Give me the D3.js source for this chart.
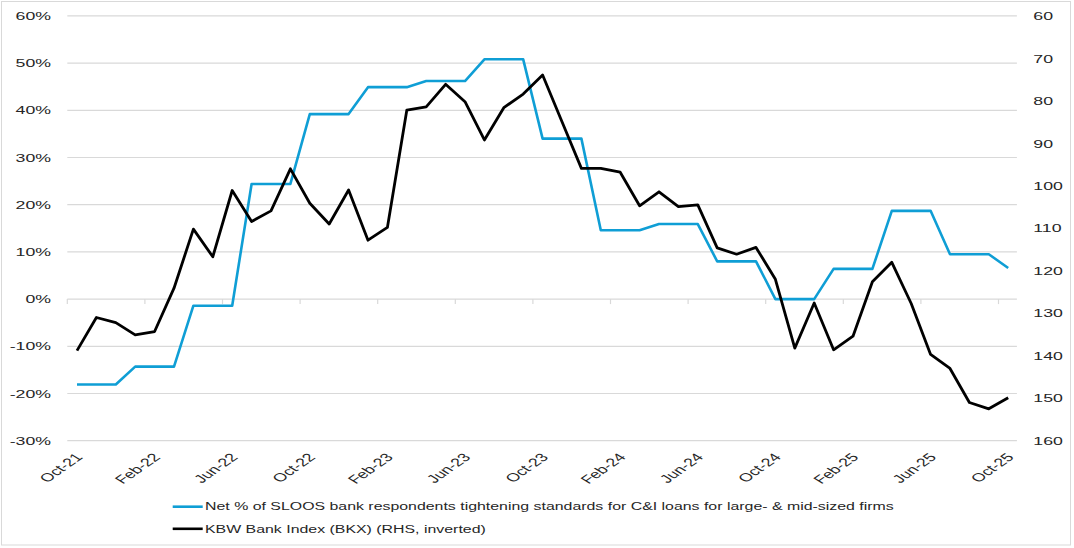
<!DOCTYPE html>
<html><head><meta charset="utf-8">
<script src="https://cdn.jsdelivr.net/npm/d3@7"></script>
<style>
body{margin:0;background:#fff}
svg{display:block}
text{font-family:"Liberation Sans",Arial,sans-serif;fill:#262626}
</style>
</head><body>
<svg id="c" width="1074" height="548"></svg>
<script>
// ---------- data ----------
const months = ["Oct-21","Nov-21","Dec-21","Jan-22","Feb-22","Mar-22","Apr-22","May-22","Jun-22","Jul-22","Aug-22","Sep-22",
"Oct-22","Nov-22","Dec-22","Jan-23","Feb-23","Mar-23","Apr-23","May-23","Jun-23","Jul-23","Aug-23","Sep-23",
"Oct-23","Nov-23","Dec-23","Jan-24","Feb-24","Mar-24","Apr-24","May-24","Jun-24","Jul-24","Aug-24","Sep-24",
"Oct-24","Nov-24","Dec-24","Jan-25","Feb-25","Mar-25","Apr-25","May-25","Jun-25","Jul-25","Aug-25","Sep-25","Oct-25"];
const sloos = [-18.1,-18.1,-18.1,-14.3,-14.3,-14.3,-1.4,-1.4,-1.4,24.4,24.4,24.4,
39.2,39.2,39.2,44.9,44.9,44.9,46.2,46.2,46.2,50.8,50.8,50.8,
34.0,34.0,34.0,14.6,14.6,14.6,15.9,15.9,15.9,8.0,8.0,8.0,
0,0,0,6.4,6.4,6.4,18.7,18.7,18.7,9.5,9.5,9.5,6.6];
const bkx = [138.8,131.0,132.2,135.1,134.3,124.1,110.2,116.7,101.1,108.4,105.9,96.0,
104.1,109.0,101.0,112.8,109.8,82.2,81.4,76.1,80.2,89.2,81.6,78.4,
73.9,84.9,95.9,95.9,96.8,104.7,101.4,104.9,104.5,114.6,116.1,114.5,
122.0,138.2,127.6,138.6,135.4,122.6,118.0,127.7,139.7,143.0,151.0,152.5,149.9];
const leftTicks = [-30,-20,-10,0,10,20,30,40,50,60];
const rightTicks = [60,70,80,90,100,110,120,130,140,150,160];
const xTickLabels = ["Oct-21","Feb-22","Jun-22","Oct-22","Feb-23","Jun-23","Oct-23","Feb-24","Jun-24","Oct-24","Feb-25","Jun-25","Oct-25"];
const seriesNames = ["Net % of SLOOS bank respondents tightening standards for C&I loans for large- & mid-sized firms",
                     "KBW Bank Index (BKX) (RHS, inverted)"];
const seriesColors = ["#0f9ed5","#000000"];

// ---------- layout ----------
const svg = d3.select("#c");
const L = 67.3, R = 1017.9, T = 15.9, B = 440.7;
const x = d3.scaleBand().domain(months).range([L, R]).paddingInner(0).paddingOuter(0);
const yL = d3.scaleLinear().domain([-30, 60]).range([B, T]);
const yR = d3.scaleLinear().domain([60, 160]).range([T, B]);
const cx = m => x(m) + x.bandwidth() / 2;

// border
svg.append("rect").attr("x",1.5).attr("y",1.5).attr("width",1069).attr("height",543.5)
  .attr("fill","none").attr("stroke","#d9d9d9").attr("stroke-width",1);

// gridlines
svg.append("g").selectAll("line").data(leftTicks).join("line")
  .attr("x1", L).attr("x2", R - 1).attr("y1", d => yL(d)).attr("y2", d => yL(d))
  .attr("stroke", "#d9d9d9").attr("stroke-width", 1.2);

// category tick marks on the 0% axis line
const tickIdx = d3.range(0, months.length, 4);
svg.append("g").selectAll("line").data(tickIdx).join("line")
  .attr("x1", i => x(months[i])).attr("x2", i => x(months[i]))
  .attr("y1", yL(0)).attr("y2", yL(0) + 5)
  .attr("stroke", "#d9d9d9").attr("stroke-width", 1.2);

// measure text stretch
const FS = 11.6;
const probe = svg.append("text").attr("font-size", 10.4).text(seriesNames[0]);
const sx = 689 / probe.node().getComputedTextLength();
probe.remove();

// left axis labels
svg.append("g").selectAll("text").data(leftTicks).join("text")
  .attr("transform", d => `translate(51,${yL(d)}) scale(${sx},1)`)
  .attr("text-anchor", "end").attr("dy", "0.36em").attr("font-size", FS)
  .text(d => d + "%");

// right axis labels
svg.append("g").selectAll("text").data(rightTicks).join("text")
  .attr("transform", d => `translate(1033.3,${yR(d)}) scale(${sx},1)`)
  .attr("text-anchor", "start").attr("dy", "0.36em").attr("font-size", FS)
  .text(d => d);

// x labels
svg.append("g").selectAll("text").data(xTickLabels).join("text")
  .attr("transform", d => `translate(${cx(d) + 2},455) scale(${sx},1) rotate(-47)`)
  .attr("text-anchor", "end").attr("dy", "0.35em").attr("font-size", FS)
  .text(d => d);

// lines
const lineL = d3.line().x((d, i) => cx(months[i])).y(d => yL(d));
const lineR = d3.line().x((d, i) => cx(months[i])).y(d => yR(d));
svg.append("path").datum(sloos).attr("d", lineL)
  .attr("fill", "none").attr("stroke", seriesColors[0]).attr("stroke-width", 2.6).attr("stroke-linejoin", "round");
svg.append("path").datum(bkx).attr("d", lineR)
  .attr("fill", "none").attr("stroke", seriesColors[1]).attr("stroke-width", 2.8).attr("stroke-linejoin", "round");

// legend
const legY = [506.7, 528.8];
const leg = svg.append("g");
seriesNames.forEach((n, i) => {
  leg.append("line").attr("x1", 172.7).attr("x2", 202.7).attr("y1", legY[i]).attr("y2", legY[i])
    .attr("stroke", seriesColors[i]).attr("stroke-width", 2.6);
  leg.append("text").attr("transform", `translate(205,${legY[i]}) scale(${sx},1)`)
    .attr("dy", "0.36em").attr("font-size", 10.4).text(n);
});
</script>
</body></html>
